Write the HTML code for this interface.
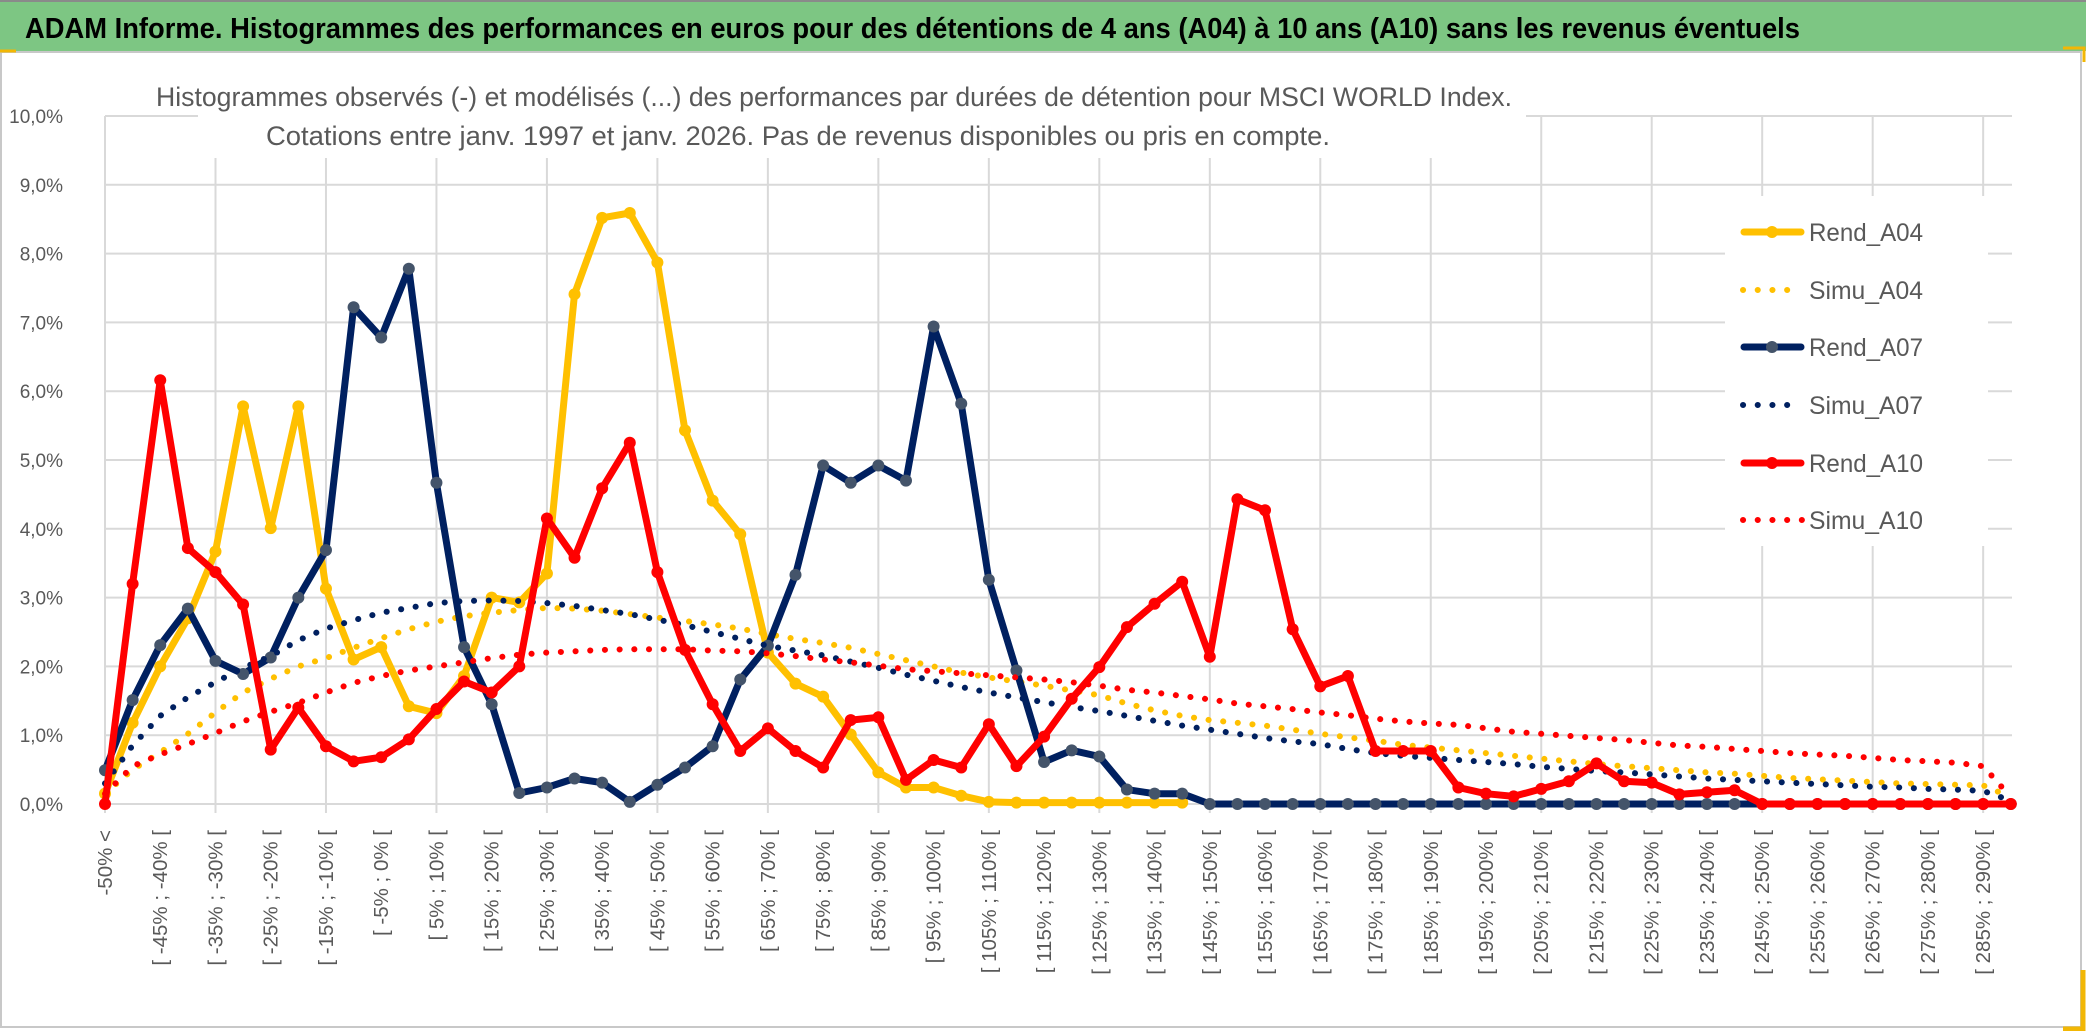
<!DOCTYPE html>
<html lang="fr">
<head>
<meta charset="utf-8">
<title>ADAM Informe – Histogrammes des performances</title>
<style>
  html, body { margin: 0; padding: 0; background: #ffffff; }
  body { width: 2086px; height: 1031px; overflow: hidden; }
  svg { display: block; font-family: "Liberation Sans", "DejaVu Sans", sans-serif; }
</style>
</head>
<body>
<svg id="chart" width="2086" height="1031" viewBox="0 0 2086 1031" xmlns="http://www.w3.org/2000/svg">
  <rect x="0" y="0" width="2086" height="1031" fill="#ffffff"/>
  <rect x="0" y="0" width="2086" height="51" fill="#7dc683"/>
  <line x1="0" y1="1" x2="2086" y2="1" stroke="#8a8a8a" stroke-width="2"/>
  <text x="25" y="38" font-size="29" font-weight="bold" fill="#000000" textLength="1775" lengthAdjust="spacingAndGlyphs">ADAM Informe. Histogrammes des performances en euros pour des détentions de 4 ans (A04) à 10 ans (A10) sans les revenus éventuels</text>
  <rect x="1" y="52" width="2080" height="975" fill="#ffffff" stroke="#c8c8c8" stroke-width="2"/>
  <path d="M0 51 H16" stroke="#f2b705" stroke-width="3" fill="none"/>
  <path d="M2063 48 H2084 V62" stroke="#f2b705" stroke-width="3" fill="none"/>
  <path d="M2083 970 V1029 H2063" stroke="#f2b705" stroke-width="5" fill="none"/>
  <g id="grid"></g>
  <rect x="198" y="70" width="1328" height="88" fill="#ffffff"/>
  <text x="834" y="106" font-size="27" fill="#595959" text-anchor="middle" textLength="1356" lengthAdjust="spacingAndGlyphs">Histogrammes observés (-) et modélisés (...) des performances par durées de détention pour MSCI WORLD Index.</text>
  <text x="798" y="145" font-size="27" fill="#595959" text-anchor="middle" textLength="1064" lengthAdjust="spacingAndGlyphs">Cotations entre janv. 1997 et janv. 2026. Pas de revenus disponibles ou pris en compte.</text>
  <rect x="1725" y="196" width="263" height="350" fill="#ffffff"/>
  <g id="yticks"></g>
  <g id="xticks"></g>
  <g id="series"></g>
  <g id="legend"></g>
</svg>
<script>
const categories = ["-50% <","[ -50% ; -45% [","[ -45% ; -40% [","[ -40% ; -35% [","[ -35% ; -30% [","[ -30% ; -25% [","[ -25% ; -20% [","[ -20% ; -15% [","[ -15% ; -10% [","[ -10% ; -5% [","[ -5% ; 0% [","[ 0% ; 5% [","[ 5% ; 10% [","[ 10% ; 15% [","[ 15% ; 20% [","[ 20% ; 25% [","[ 25% ; 30% [","[ 30% ; 35% [","[ 35% ; 40% [","[ 40% ; 45% [","[ 45% ; 50% [","[ 50% ; 55% [","[ 55% ; 60% [","[ 60% ; 65% [","[ 65% ; 70% [","[ 70% ; 75% [","[ 75% ; 80% [","[ 80% ; 85% [","[ 85% ; 90% [","[ 90% ; 95% [","[ 95% ; 100% [","[ 100% ; 105% [","[ 105% ; 110% [","[ 110% ; 115% [","[ 115% ; 120% [","[ 120% ; 125% [","[ 125% ; 130% [","[ 130% ; 135% [","[ 135% ; 140% [","[ 140% ; 145% [","[ 145% ; 150% [","[ 150% ; 155% [","[ 155% ; 160% [","[ 160% ; 165% [","[ 165% ; 170% [","[ 170% ; 175% [","[ 175% ; 180% [","[ 180% ; 185% [","[ 185% ; 190% [","[ 190% ; 195% [","[ 195% ; 200% [","[ 200% ; 205% [","[ 205% ; 210% [","[ 210% ; 215% [","[ 215% ; 220% [","[ 220% ; 225% [","[ 225% ; 230% [","[ 230% ; 235% [","[ 235% ; 240% [","[ 240% ; 245% [","[ 245% ; 250% [","[ 250% ; 255% [","[ 255% ; 260% [","[ 260% ; 265% [","[ 265% ; 270% [","[ 270% ; 275% [","[ 275% ; 280% [","[ 280% ; 285% [","[ 285% ; 290% [","> 290%"];
const yTickValues = [0,1,2,3,4,5,6,7,8,9,10];
const yTickLabels = ["0,0%","1,0%","2,0%","3,0%","4,0%","5,0%","6,0%","7,0%","8,0%","9,0%","10,0%"];
const rendA04 = [0.15,1.18,2.0,2.7,3.67,5.78,4.01,5.78,3.13,2.1,2.28,1.42,1.32,1.86,3.0,2.93,3.35,7.41,8.52,8.59,7.87,5.43,4.41,3.92,2.2,1.75,1.56,1.01,0.46,0.24,0.24,0.12,0.03,0.02,0.02,0.02,0.02,0.02,0.02,0.02];
const simuA04 = [0.15,0.5,0.75,1.02,1.33,1.62,1.82,2.0,2.12,2.27,2.41,2.54,2.65,2.73,2.78,2.82,2.85,2.84,2.81,2.76,2.71,2.66,2.61,2.55,2.47,2.4,2.34,2.27,2.18,2.09,2.0,1.91,1.84,1.78,1.72,1.65,1.58,1.46,1.36,1.28,1.22,1.18,1.14,1.08,1.02,0.97,0.92,0.86,0.82,0.78,0.74,0.7,0.66,0.62,0.58,0.55,0.52,0.49,0.46,0.44,0.41,0.38,0.36,0.34,0.32,0.3,0.29,0.28,0.27,0.1];
const rendA07 = [0.49,1.51,2.31,2.84,2.08,1.89,2.13,3.0,3.69,7.22,6.78,7.78,4.67,2.28,1.45,0.16,0.24,0.37,0.31,0.03,0.28,0.53,0.84,1.81,2.3,3.33,4.92,4.67,4.92,4.7,6.94,5.82,3.26,1.94,0.61,0.78,0.69,0.21,0.15,0.15,0,0,0,0,0,0,0,0,0,0,0,0,0,0,0,0,0,0,0,0,0,0,0,0,0,0,0,0,0,0];
const simuA07 = [0.3,0.85,1.28,1.55,1.77,1.98,2.15,2.38,2.55,2.67,2.78,2.85,2.92,2.95,2.96,2.95,2.92,2.88,2.82,2.76,2.68,2.6,2.5,2.4,2.3,2.23,2.16,2.07,1.98,1.88,1.79,1.7,1.62,1.55,1.48,1.41,1.35,1.28,1.21,1.14,1.08,1.02,0.96,0.91,0.87,0.8,0.74,0.7,0.67,0.64,0.61,0.58,0.54,0.51,0.48,0.46,0.43,0.4,0.37,0.35,0.33,0.31,0.29,0.27,0.25,0.24,0.22,0.21,0.19,0.05];
const rendA10 = [0,3.2,6.16,3.72,3.37,2.9,0.79,1.4,0.84,0.62,0.68,0.94,1.38,1.78,1.62,2.0,4.15,3.58,4.59,5.25,3.37,2.24,1.45,0.77,1.1,0.77,0.53,1.22,1.26,0.35,0.64,0.53,1.16,0.55,0.98,1.53,1.99,2.57,2.91,3.23,2.14,4.43,4.27,2.54,1.71,1.86,0.77,0.77,0.77,0.24,0.15,0.11,0.22,0.33,0.59,0.33,0.31,0.14,0.17,0.2,0,0,0,0,0,0,0,0,0,0];
const simuA10 = [0.15,0.55,0.72,0.87,1.03,1.2,1.34,1.47,1.62,1.76,1.86,1.94,2.0,2.06,2.12,2.17,2.2,2.22,2.24,2.25,2.25,2.25,2.23,2.22,2.19,2.15,2.1,2.06,2.01,1.96,1.93,1.9,1.87,1.84,1.81,1.77,1.72,1.66,1.62,1.57,1.52,1.46,1.42,1.38,1.33,1.29,1.24,1.2,1.17,1.15,1.1,1.05,1.02,0.99,0.96,0.93,0.89,0.85,0.83,0.8,0.77,0.74,0.72,0.7,0.67,0.64,0.62,0.6,0.55,0.1];
const seriesNames = ["Rend_A04","Simu_A04","Rend_A07","Simu_A07","Rend_A10","Simu_A10"];

const NS = "http://www.w3.org/2000/svg";
const X0 = 105, XSTEP = 27.62, Y0 = 804, YUNIT = 68.8, XRIGHT = 2012;
function xScale(i) { return X0 + i * XSTEP; }
function yScale(v) { return Y0 - v * YUNIT; }
function mk(tag, attrs, parent) {
  const el = document.createElementNS(NS, tag);
  for (const k in attrs) el.setAttribute(k, attrs[k]);
  parent.appendChild(el);
  return el;
}

const grid = document.getElementById('grid');
yTickValues.forEach(function (v) {
  const gl = mk('line', {x1: X0, x2: XRIGHT, y1: yScale(v), y2: yScale(v), stroke: '#d9d9d9', 'stroke-width': 2}, grid);
  
  
});
categories.forEach(function (c, i) {
  if (i % 4 !== 0) return;
  const vl = mk('line', {x1: xScale(i), x2: xScale(i), y1: yScale(10), y2: Y0 + 9, stroke: '#d9d9d9', 'stroke-width': 2}, grid);
  
  
});

const yt = document.getElementById('yticks');
yTickValues.forEach(function (v, i) {
  const t = mk('text', {x: 63, y: yScale(v) + 7, 'font-size': 19, fill: '#595959', 'text-anchor': 'end'}, yt);
  t.textContent = yTickLabels[i];
  
  
});

const xt = document.getElementById('xticks');
categories.forEach(function (c, i) {
  if (i % 2 !== 0) return;
  const x = xScale(i) + 7;
  const t = mk('text', {x: x, y: 830, 'font-size': 20.5, fill: '#595959', 'text-anchor': 'end', transform: 'rotate(-90 ' + x + ' 830)'}, xt);
  t.textContent = c;
  
  
});

const layer = document.getElementById('series');
function pathFor(values) {
  let d = '';
  values.forEach(function (v, i) {
    if (v === null || v === undefined) return;
    d += (d ? ' L' : 'M') + xScale(i).toFixed(1) + ' ' + yScale(v).toFixed(1);
  });
  return d;
}
function drawObserved(values, color, markerColor, name) {
  const g = mk('g', {}, layer);
  
  
  const p = mk('path', {d: pathFor(values), fill: 'none', stroke: color, 'stroke-width': 7, 'stroke-linejoin': 'round', 'stroke-linecap': 'round'}, g);
  
  
  values.forEach(function (v, i) {
    const c = mk('circle', {cx: xScale(i), cy: yScale(v), r: 6, fill: markerColor}, g);
    
    
  });
}
function drawSimulated(values, color, name) {
  const p = mk('path', {d: pathFor(values), fill: 'none', stroke: color, 'stroke-width': 6, 'stroke-linecap': 'round', 'stroke-linejoin': 'round', 'stroke-dasharray': '0.1 14.6'}, layer);
  
  
}
drawObserved(rendA04, '#ffc000', '#ffc000', 'rend-a04-series');
drawSimulated(simuA04, '#ffc000', 'simu-a04-series');
drawObserved(rendA07, '#002060', '#44546a', 'rend-a07-series');
drawSimulated(simuA07, '#002060', 'simu-a07-series');
drawObserved(rendA10, '#ff0000', '#ff0000', 'rend-a10-series');
drawSimulated(simuA10, '#ff0000', 'simu-a10-series');

const legend = document.getElementById('legend');
const legendColors = ['#ffc000','#ffc000','#002060','#002060','#ff0000','#ff0000'];
const legendMarker = ['#ffc000',null,'#44546a',null,'#ff0000',null];
const legendY = [232,290,347,405,463,520];
seriesNames.forEach(function (n, i) {
  const g = mk('g', {}, legend);
  
  
  const y = legendY[i];
  if (legendMarker[i]) {
    const l = mk('line', {x1: 1744, x2: 1801, y1: y, y2: y, stroke: legendColors[i], 'stroke-width': 7, 'stroke-linecap': 'round'}, g);
    
    
    const c = mk('circle', {cx: 1772, cy: y, r: 6, fill: legendMarker[i]}, g);
    
    
  } else {
    const l = mk('line', {x1: 1743, x2: (i === 5 ? 1802 : 1790), y1: y, y2: y, stroke: legendColors[i], 'stroke-width': 6, 'stroke-linecap': 'round', 'stroke-dasharray': '0.1 14.6'}, g);
    
    
  }
  const t = mk('text', {x: 1809, y: y + 9, 'font-size': 25, fill: '#595959', textLength: 114, lengthAdjust: 'spacingAndGlyphs'}, g);
  t.textContent = n;
  
  
});
</script>
</body>
</html>
